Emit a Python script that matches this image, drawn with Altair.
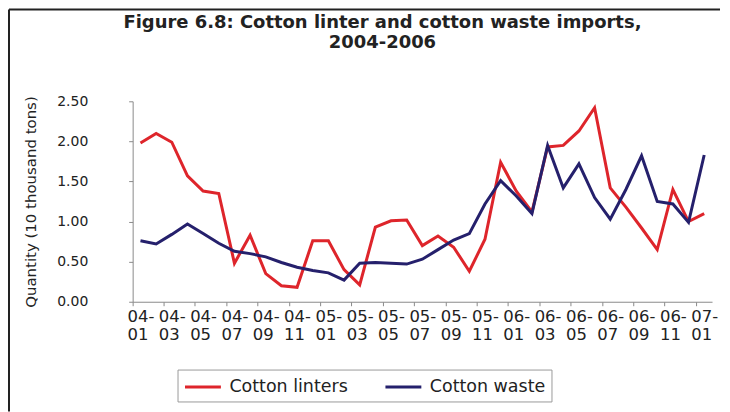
import altair as alt
import pandas as pd

months = ["04-01", "04-02", "04-03", "04-04", "04-05", "04-06", "04-07", "04-08", "04-09", "04-10", "04-11", "04-12",
          "05-01", "05-02", "05-03", "05-04", "05-05", "05-06", "05-07", "05-08", "05-09", "05-10", "05-11", "05-12",
          "06-01", "06-02", "06-03", "06-04", "06-05", "06-06", "06-07", "06-08", "06-09", "06-10", "06-11", "06-12",
          "07-01"]
tick_months = ["04-01", "04-03", "04-05", "04-07", "04-09", "04-11",
               "05-01", "05-03", "05-05", "05-07", "05-09", "05-11",
               "06-01", "06-03", "06-05", "06-07", "06-09", "06-11", "07-01"]
linters = [1.98, 2.10, 1.99, 1.57, 1.38, 1.35, 0.48, 0.83, 0.35, 0.20, 0.18, 0.76,
           0.76, 0.40, 0.21, 0.93, 1.01, 1.02, 0.70, 0.82, 0.68, 0.38, 0.78, 1.74,
           1.38, 1.12, 1.93, 1.95, 2.13, 2.42, 1.42, 1.18, 0.92, 0.65, 1.40, 1.00,
           1.10]
waste = [0.76, 0.72, 0.84, 0.97, 0.85, 0.73, 0.63, 0.60, 0.56, 0.49, 0.43, 0.39,
         0.36, 0.27, 0.48, 0.49, 0.48, 0.47, 0.53, 0.65, 0.77, 0.85, 1.22, 1.51,
         1.32, 1.10, 1.95, 1.42, 1.72, 1.30, 1.03, 1.40, 1.82, 1.25, 1.22, 0.99,
         1.83]
series_names = ["Cotton linters", "Cotton waste"]
series_colors = ["#de252b", "#25206c"]
y_ticks = [0.0, 0.5, 1.0, 1.5, 2.0, 2.5]

df = pd.DataFrame({
    "month": months + months,
    "series": [series_names[0]] * len(months) + [series_names[1]] * len(months),
    "value": linters + waste,
})

FONT = "DejaVu Sans"
AX = "#8a8a8a"
TXT = "#222222"

lines = alt.Chart(df).mark_line(strokeWidth=3).encode(
    x=alt.X(
        "month:O", sort=months, bandPosition=0.5,
        scale=alt.Scale(type="band", paddingInner=0, paddingOuter=0),
        axis=alt.Axis(
            values=tick_months, bandPosition=0, title=None, grid=False,
            labelAngle=0, labelAlign="left", labelBaseline="top", labelOffset=-13,
            labelExpr="[slice(datum.value, 0, 3), slice(datum.value, 3)]",
            labelLineHeight=18, labelFont=FONT, labelFontSize=16.5, labelColor=TXT,
            labelPadding=3, labelOverlap=False, labelFlush=False,
            tickSize=4, tickColor=AX, domainColor=AX,
        ),
    ),
    y=alt.Y(
        "value:Q",
        scale=alt.Scale(domain=[0, 2.5], nice=False, zero=True),
        axis=alt.Axis(
            values=y_ticks, format=".2f", grid=False,
            title="Quantity (10 thousand tons)", titleFont=FONT, titleFontSize=15,
            titleFontWeight="normal", titleColor=TXT, titlePadding=18,
            labelFont=FONT, labelFontSize=14, labelColor=TXT, labelPadding=41,
            tickSize=4, tickColor=AX, domainColor=AX,
        ),
    ),
    color=alt.Color(
        "series:N",
        scale=alt.Scale(domain=series_names, range=series_colors),
        legend=alt.Legend(
            title=None, orient="none", legendX=45, legendY=269, direction="horizontal",
            symbolType="M-1,0H2.6", symbolSize=400, symbolStrokeWidth=3,
            labelFont=FONT, labelFontSize=17.5, labelColor=TXT, labelOffset=23,
            columnPadding=31, padding=6, strokeColor="#9a9a9a", fillColor="white",
        ),
    ),
)

frame_data = pd.DataFrame({"k": [0]})
frame_left = alt.Chart(frame_data).mark_rule(color="#222222", strokeWidth=2).encode(
    x=alt.value(-124), y=alt.value(-92), y2=alt.value(311)
)
frame_top = alt.Chart(frame_data).mark_rule(color="#222222", strokeWidth=2).encode(
    x=alt.value(-124), x2=alt.value(589), y=alt.value(-92)
)

chart = alt.layer(lines, frame_left, frame_top).properties(
    width=581,
    height=201,
    autosize=alt.AutoSizeParams(type="none"),
    padding={"left": 125, "top": 93, "right": 10, "bottom": 110},
    background="white",
    title=alt.Title(
        ["Figure 6.8: Cotton linter and cotton waste imports,", "2004-2006"],
        font=FONT, fontSize=18, fontWeight="bold", color=TXT,
        anchor="middle", dx=-40, offset=-44, lineHeight=21,
    ),
).configure_view(stroke=None)

chart.save("out.html", embed_options={"renderer": "svg", "actions": False})
